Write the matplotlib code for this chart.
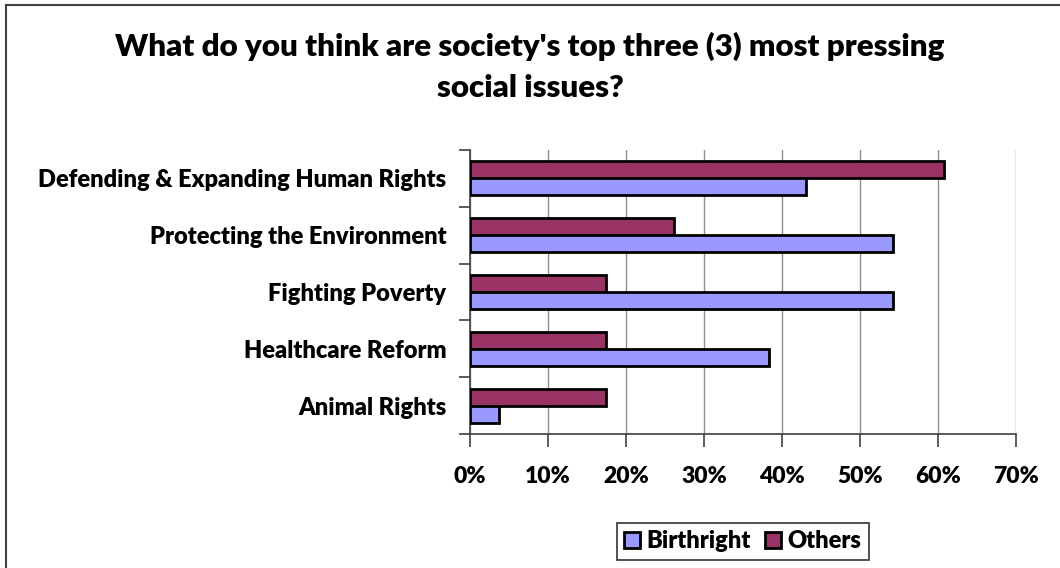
import matplotlib
matplotlib.use("Agg")
import matplotlib.pyplot as plt
import numpy as np
from matplotlib.patches import Patch
from matplotlib.lines import Line2D

categories = ["Defending & Expanding Human Rights", "Protecting the Environment",
              "Fighting Poverty", "Healthcare Reform", "Animal Rights"]
birthright = [43.1, 54.2, 54.2, 38.3, 3.7]
others = [60.8, 26.1, 17.4, 17.4, 17.4]
xticks = [0, 10, 20, 30, 40, 50, 60, 70]
xticklabels = ["0%", "10%", "20%", "30%", "40%", "50%", "60%", "70%"]
title = "What do you think are society's top three (3) most pressing\nsocial issues?"

plt.rcParams['font.family'] = ['Lato', 'DejaVu Sans']
WT = 'heavy'
plt.rcParams['font.weight'] = WT

W, H = 1060, 568
fig = plt.figure(figsize=(W / 100, H / 100), dpi=100)
ax = fig.add_axes([470 / W, 1 - 434 / H, (1016 - 470) / W, (434 - 150) / H])

n = len(categories)
y = np.arange(n)[::-1].astype(float)
h = 0.3
ax.barh(y + h / 2, others, height=h, color="#993366", edgecolor="black", linewidth=2, zorder=3)
ax.barh(y - h / 2, birthright, height=h, color="#9999FF", edgecolor="black", linewidth=2, zorder=3)

ax.set_xlim(0, 70)
ax.set_ylim(-0.5, n - 0.5)
ax.set_xticks(xticks)
ax.set_xticklabels(xticklabels, fontsize=16.5, fontweight=WT)
ax.set_yticks(y)
ax.set_yticklabels(categories, fontsize=17, fontweight=WT)
ax.set_yticks(np.arange(n + 1) - 0.5, minor=True)
ax.tick_params(axis='y', which='major', length=0, pad=17)
ax.tick_params(axis='y', which='minor', length=8, width=1.2, color='#404040', direction='out')
ax.tick_params(axis='x', which='major', length=9, width=1.2, color='#404040', pad=14, direction='out')
ax.grid(axis='x', color='#909090', linewidth=1, zorder=0)
for s in ['top', 'right']:
    ax.spines[s].set_visible(False)
for s in ['left', 'bottom']:
    ax.spines[s].set_color('#404040')
    ax.spines[s].set_linewidth(1.2)
ax.set_axisbelow(True)

fig.text(530 / W, 1 - 67 / H, title, ha='center', va='center', fontsize=22.5,
         fontweight=WT, linespacing=1.6)

handles = [Patch(facecolor="#9999FF", edgecolor="black", linewidth=2, label="Birthright"),
           Patch(facecolor="#993366", edgecolor="black", linewidth=2, label="Others")]
leg = fig.legend(handles=handles, loc='center', bbox_to_anchor=(743 / W, 1 - 541.5 / H),
                 ncol=2, frameon=True, fancybox=False, prop={'weight': WT, 'size': 17},
                 handlelength=0.65, handleheight=0.65, handletextpad=0.3, columnspacing=0.6,
                 borderpad=0.3, borderaxespad=0)
leg.get_frame().set_edgecolor('black')
leg.get_frame().set_linewidth(1.2)

fig.add_artist(Line2D([6 / W, 6 / W], [0, 1 - 5 / H], color='#404040', linewidth=1.5))
fig.add_artist(Line2D([6 / W, 1], [1 - 5 / H, 1 - 5 / H], color='#404040', linewidth=1.5))

fig.savefig("out.png", dpi=100)
